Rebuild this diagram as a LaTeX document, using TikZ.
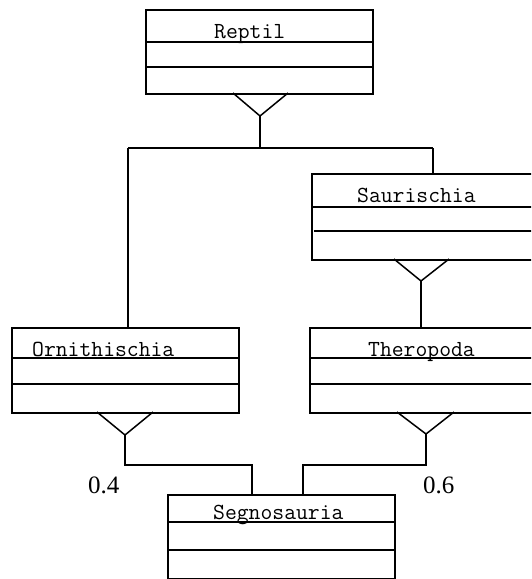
\documentclass[tikz,border=0pt]{standalone}
\usepackage{fontspec}
\setmainfont{Liberation Serif}
\usetikzlibrary{calc}
\tikzset{
  umlbox/.style={draw, line width=1.5pt, minimum width=227pt, anchor=north west, inner sep=0pt},
  cname/.style={font=\ttfamily\fontsize{23}{25}\selectfont, anchor=base west, inner sep=0pt},
  conn/.style={line width=1.5pt},
  comp/.style={line width=1.5pt},
  lbl/.style={font=\fontsize{25}{27}\selectfont, anchor=base west, inner sep=0pt}
}
\begin{document}
\begin{tikzpicture}[x=1pt,y=-1pt]
\useasboundingbox (0,0) rectangle (531,579);
\clip (0,0) rectangle (531,579);
% boxes
\node[umlbox, minimum height=84pt] (reptil) at (145,9) {};
\node[umlbox, minimum height=86pt] (saur) at (311,173) {};
\node[umlbox, minimum height=85pt] (orn) at (11,327) {};
\node[umlbox, minimum height=85pt] (thero) at (309,327) {};
\node[umlbox, minimum height=84pt] (segno) at (167,494) {};
% compartments
\draw[comp] (reptil.west |- 0,42) -- (reptil.east |- 0,42);
\draw[comp] (reptil.west |- 0,67) -- (reptil.east |- 0,67);
\draw[comp] (saur.west |- 0,207) -- (saur.east |- 0,207);
\draw[comp] (314,231) -- (saur.east |- 0,231);
\draw[comp] (orn.west |- 0,358) -- (orn.east |- 0,358);
\draw[comp] (orn.west |- 0,384) -- (orn.east |- 0,384);
\draw[comp] (thero.west |- 0,358) -- (thero.east |- 0,358);
\draw[comp] (thero.west |- 0,384) -- (thero.east |- 0,384);
\draw[comp] (segno.west |- 0,522) -- (segno.east |- 0,522);
\draw[comp] (segno.west |- 0,550) -- (segno.east |- 0,550);
% class names
\node[cname] (reptilT) at (214,38) {Reptil};
\node[cname] (saurT) at (357,202) {Saurischia};
\node[cname] (ornT) at (32,356) {Ornithischia};
\node[cname] (theroT) at (368,356) {Theropoda};
\node[cname] (segnoT) at (213,519) {Segnosauria};
% labels
\node[lbl] (l04) at (88,493) {0.4};
\node[lbl] (l06) at (423,493) {0.6};
% generalisation triangles
\coordinate (rA) at (260,116);
\coordinate (sA) at (421,281);
\coordinate (oA) at (125,435);
\coordinate (tA) at (426,434);
\draw[conn] (233,93) -- (rA) -- (288,93);
\draw[conn] (394,259) -- (sA) -- (449,259);
\draw[conn] (97,412) -- (oA) -- (153,412);
\draw[conn] (397,412) -- (tA) -- (454,412);
% junctions
\coordinate (rJ) at (260,148);
\coordinate (rL) at (128,148);
\coordinate (rR) at (433,148);
\coordinate (oJ) at (125,465);
\coordinate (tJ) at (426,465);
\coordinate (sgL) at (252,494);
\coordinate (sgR) at (303,494);
% connectors
\draw[conn] (rA) -- (rJ);
\draw[conn] (rL) -- (rR);
\draw[conn] (rL) -- (rL |- orn.north);
\draw[conn] (rR) -- (rR |- saur.north);
\draw[conn] (sA) -- (sA |- thero.north);
\draw[conn] (oA) -- (oJ) -| (sgL);
\draw[conn] (tA) -- (tJ) -| (sgR);
\end{tikzpicture}
\end{document}
